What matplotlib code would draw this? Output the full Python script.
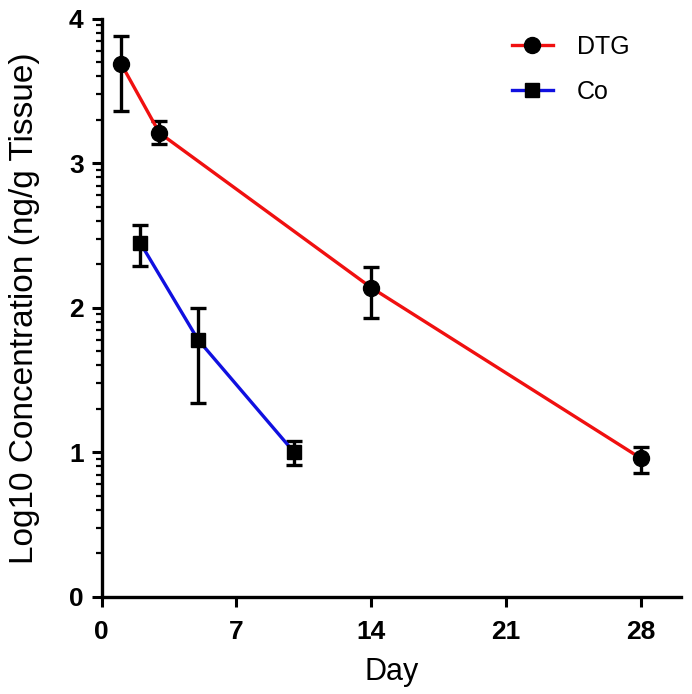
import numpy as np
import matplotlib.pyplot as plt
from matplotlib.ticker import FixedLocator

plt.rcParams['font.family'] = ['Liberation Sans', 'DejaVu Sans']

# DTG
dtg_day = [1, 3, 14, 28]
dtg_mean = [3.69, 3.21, 2.14, 0.96]
dtg_low = [3.36, 3.13, 1.93, 0.86]
dtg_high = [3.88, 3.29, 2.28, 1.04]

# Co
co_day = [2, 5, 10]
co_mean = [2.45, 1.78, 1.00]
co_low = [2.29, 1.34, 0.91]
co_high = [2.57, 2.00, 1.08]

fig = plt.figure(figsize=(6.92, 6.94), dpi=100)
ax = fig.add_axes([0.147, 0.140, 0.837, 0.833])

def draw(day, mean, low, high, color, marker, ms, label):
    err = [np.array(mean) - np.array(low), np.array(high) - np.array(mean)]
    ax.errorbar(day, mean, yerr=err, fmt='none', ecolor='black',
                elinewidth=2.4, capsize=6, capthick=2.4, zorder=2)
    ax.plot(day, mean, color=color, lw=2.4, marker=marker, ms=ms,
            mfc='black', mec='black', label=label, zorder=3)

draw(dtg_day, dtg_mean, dtg_low, dtg_high, '#f01010', 'o', 11.5, 'DTG')
draw(co_day, co_mean, co_low, co_high, '#1010e0', 's', 10, 'Co')

ax.set_xlim(0, 30.1)
ax.set_ylim(0, 4)
ax.set_xticks([0, 7, 14, 21, 28])
ax.set_yticks([0, 1, 2, 3, 4])
minor = [d + np.log10(k) for d in range(4) for k in range(2, 10)]
ax.yaxis.set_minor_locator(FixedLocator(minor))

for s in ['top', 'right']:
    ax.spines[s].set_visible(False)
for s in ['left', 'bottom']:
    ax.spines[s].set_linewidth(2.4)

ax.tick_params(axis='both', which='major', length=7, width=2.2,
               labelsize=19)
ax.tick_params(axis='x', which='major', pad=10)
ax.tick_params(axis='y', which='major', pad=6)
ax.tick_params(axis='y', which='minor', length=4, width=1.6)
for lab in ax.get_xticklabels() + ax.get_yticklabels():
    lab.set_fontweight('bold')

ax.set_xlabel('Day', fontsize=22, labelpad=9)
ax.set_ylabel('Log10 Concentration (ng/g Tissue)', fontsize=24, labelpad=21)

ax.legend(loc='upper left', frameon=False, fontsize=18, handlelength=1.65,
          handletextpad=0.95, labelspacing=0.85, borderaxespad=0,
          bbox_to_anchor=(0.725, 0.964), bbox_transform=fig.transFigure)

fig.savefig('out.png', dpi=100)
